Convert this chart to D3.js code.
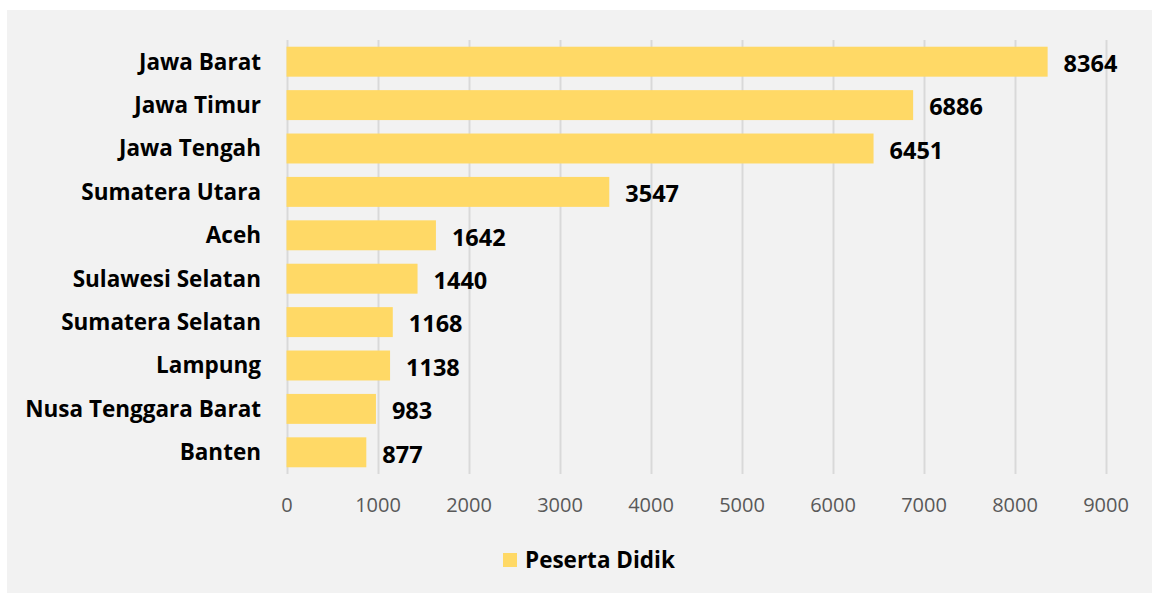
<!DOCTYPE html>
<html>
<head>
<meta charset="utf-8">
<script src="https://cdn.jsdelivr.net/npm/d3@7"></script>
<style>
  html, body { margin: 0; padding: 0; background: #ffffff; }
  svg { display: block; }
</style>
</head>
<body>
<div id="chart"></div>
<script>
const categories = ["Jawa Barat", "Jawa Timur", "Jawa Tengah", "Sumatera Utara", "Aceh",
  "Sulawesi Selatan", "Sumatera Selatan", "Lampung", "Nusa Tenggara Barat", "Banten"];
const values = [8364, 6886, 6451, 3547, 1642, 1440, 1168, 1138, 983, 877];
const tickValues = [0, 1000, 2000, 3000, 4000, 5000, 6000, 7000, 8000, 9000];
const seriesName = "Peserta Didik";

const W = 1152, H = 593;
const font = "'Open Sans', 'Noto Sans', sans-serif";
const svg = d3.select("#chart").append("svg").attr("width", W).attr("height", H);

// panel
svg.append("rect").attr("x", 7).attr("y", 10).attr("width", W - 7).attr("height", H - 10)
  .attr("fill", "#f2f2f2");

const x = d3.scaleLinear().domain([0, 9000]).range([286.5, 1105.5]);
const y = d3.scaleBand().domain(categories).range([40, 474]).paddingInner(0.31).paddingOuter(0.155);

// gridlines
svg.append("g").selectAll("line").data(tickValues).join("line")
  .attr("x1", d => Math.round(x(d)) + 0.5).attr("x2", d => Math.round(x(d)) + 0.5)
  .attr("y1", 40).attr("y2", 474)
  .attr("stroke", "#d9d9d9").attr("stroke-width", 2);

// x axis labels
const xAxis = d3.axisBottom(x).tickValues(tickValues).tickSize(0).tickPadding(0).tickFormat(d3.format("d"));
const gx = svg.append("g").attr("transform", "translate(0,498)").call(xAxis);
gx.select(".domain").remove();
gx.selectAll("text").attr("font-family", font).attr("font-size", 20)
  .attr("fill", "#595959").attr("dy", "0.35em").attr("y", 7);

// y axis labels
const yAxis = d3.axisLeft(y).tickSize(0).tickPadding(0);
const gy = svg.append("g").attr("transform", "translate(261,0)").call(yAxis);
gy.select(".domain").remove();
gy.selectAll("text").attr("font-family", font).attr("font-size", 22.5)
  .attr("font-weight", "bold").attr("fill", "#000").attr("dy", "0.35em");

// bars
svg.append("g").selectAll("rect").data(values).join("rect")
  .attr("x", x(0)).attr("y", (d, i) => y(categories[i]))
  .attr("width", d => x(d) - x(0)).attr("height", y.bandwidth())
  .attr("fill", "#ffd966");

// value labels
svg.append("g").selectAll("text").data(values).join("text")
  .attr("x", d => x(d) + 16).attr("y", (d, i) => y(categories[i]) + y.bandwidth() / 2 + 2)
  .attr("dy", "0.35em")
  .attr("font-family", font).attr("font-size", 23.5).attr("font-weight", "bold").attr("fill", "#000")
  .text(d => d);

// legend
const lg = svg.append("g");
lg.append("rect").attr("x", 503).attr("y", 553).attr("width", 14).attr("height", 14).attr("fill", "#ffd966");
lg.append("text").attr("x", 525).attr("y", 560).attr("dy", "0.35em")
  .attr("font-family", font).attr("font-size", 22.5).attr("font-weight", "bold").attr("fill", "#000")
  .text(seriesName);
</script>
</body>
</html>
